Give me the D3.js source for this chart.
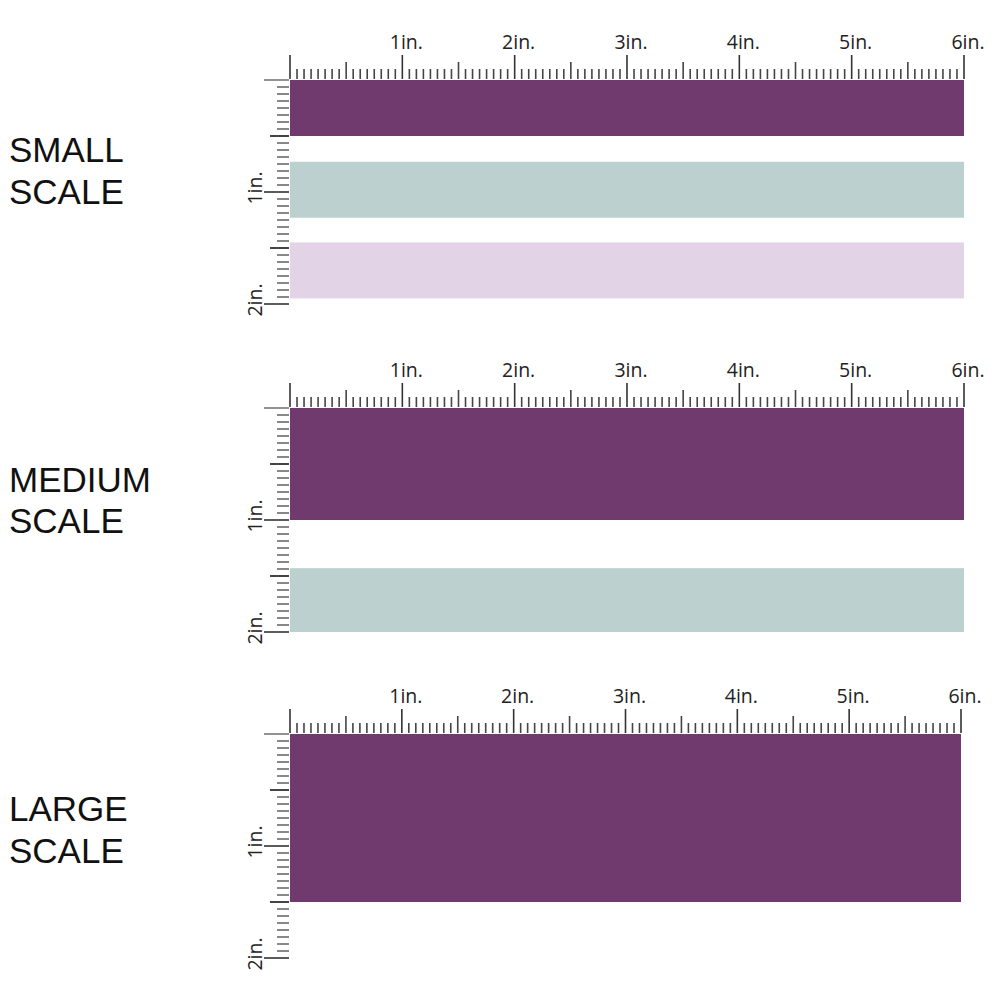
<!DOCTYPE html>
<html>
<head>
<meta charset="utf-8">
<script src="https://cdn.jsdelivr.net/npm/d3@7"></script>
<style>
  html, body { margin: 0; padding: 0; background: #fff; }
  svg { display: block; }
</style>
</head>
<body>
<svg id="chart" width="1000" height="1000"></svg>
<script>
// ---- data ----
const panelTitles = [["SMALL", "SCALE"], ["MEDIUM", "SCALE"], ["LARGE", "SCALE"]];
const rulerTickLabels = ["1in.", "2in.", "3in.", "4in.", "5in.", "6in."];
const verticalTickLabels = ["1in.", "2in."];
const rulerWidthInches = 6;
const rulerHeightInches = 2;
const subdivisionsPerInch = 16;
// stripe extents in inches (start, end) along the vertical ruler
const smallStripeStarts = [0, 0.73, 1.45];
const smallStripeEnds = [0.5, 1.23, 1.95];
const mediumStripeStarts = [0, 1.43];
const mediumStripeEnds = [1.0, 2.0];
const largeStripeStarts = [0];
const largeStripeEnds = [1.5];
const smallStripeColors = ["#713a6e", "#bcd1cf", "#e2d4e6"];
const mediumStripeColors = ["#713a6e", "#bcd1cf"];
const largeStripeColors = ["#713a6e"];

// ---- layout ----
const panelOriginY = [80, 408, 734];
const panelRightX = [964, 964, 961];
const originX = 290;
const pxPerInchY = 112;
const titleBaselines = [[162, 204], [492, 533], [821, 863]];

const stripeSets = [
  { starts: smallStripeStarts, ends: smallStripeEnds, colors: smallStripeColors },
  { starts: mediumStripeStarts, ends: mediumStripeEnds, colors: mediumStripeColors },
  { starts: largeStripeStarts, ends: largeStripeEnds, colors: largeStripeColors }
];

const svg = d3.select("#chart");

panelTitles.forEach((title, p) => {
  const y0 = panelOriginY[p];
  const x = d3.scaleLinear().domain([0, rulerWidthInches]).range([originX, panelRightX[p]]);
  const y = d3.scaleLinear().domain([0, rulerHeightInches]).range([y0, y0 + pxPerInchY * rulerHeightInches]);
  const g = svg.append("g");

  // title
  g.append("g").selectAll("text").data(title).join("text")
    .attr("x", 9)
    .attr("y", (d, i) => titleBaselines[p][i])
    .attr("font-family", "'Liberation Sans', Arial, sans-serif")
    .attr("font-size", 35)
    .attr("fill", "#111")
    .text(d => d);

  // stripes
  const set = stripeSets[p];
  const stripes = set.starts.map((s, i) => ({ s, e: set.ends[i], c: set.colors[i] }));
  g.append("g").selectAll("rect").data(stripes).join("rect")
    .attr("x", x(0))
    .attr("width", x(rulerWidthInches) - x(0))
    .attr("y", d => y(d.s))
    .attr("height", d => y(d.e) - y(d.s))
    .attr("fill", d => d.c);

  // top ruler ticks
  const baseY = y0 - 1;
  const hTicks = d3.range(0, rulerWidthInches * subdivisionsPerInch + 1);
  g.append("g").selectAll("line").data(hTicks).join("line")
    .attr("x1", i => x(i / subdivisionsPerInch))
    .attr("x2", i => x(i / subdivisionsPerInch))
    .attr("y1", baseY)
    .attr("y2", i => baseY - (i % 16 === 0 ? 24 : i % 8 === 0 ? 17 : 10))
    .attr("stroke", i => i % 16 === 0 ? "#333" : "#444")
    .attr("stroke-width", i => i % 16 === 0 ? 1.6 : 1.6);

  g.append("g").selectAll("text").data(rulerTickLabels).join("text")
    .attr("x", (d, i) => x(i + 1) + 4)
    .attr("y", baseY - 30)
    .attr("text-anchor", "middle")
    .attr("font-family", "'Open Sans', sans-serif")
    .attr("font-size", 19.5)
    .attr("fill", "#222")
    .text(d => d);

  // left vertical ruler ticks
  const vTicks = d3.range(0, rulerHeightInches * subdivisionsPerInch + 1);
  g.append("g").selectAll("line").data(vTicks).join("line")
    .attr("y1", i => y(i / subdivisionsPerInch))
    .attr("y2", i => y(i / subdivisionsPerInch))
    .attr("x1", originX - 1)
    .attr("x2", i => originX - 1 - (i % 16 === 0 ? 25 : i % 8 === 0 ? 19 : 12))
    .attr("stroke", i => i === 0 ? "#777" : i % 16 === 0 ? "#333" : i % 8 === 0 ? "#444" : "#888")
    .attr("stroke-width", i => i % 16 === 0 ? 1.6 : 2);

  g.append("g").selectAll("text").data(verticalTickLabels).join("text")
    .attr("transform", (d, i) => `translate(262,${y(i + 1) - 4}) rotate(-90)`)
    .attr("text-anchor", "middle")
    .attr("font-family", "'Open Sans', sans-serif")
    .attr("font-size", 19.5)
    .attr("fill", "#222")
    .text(d => d);
});
</script>
</body>
</html>
